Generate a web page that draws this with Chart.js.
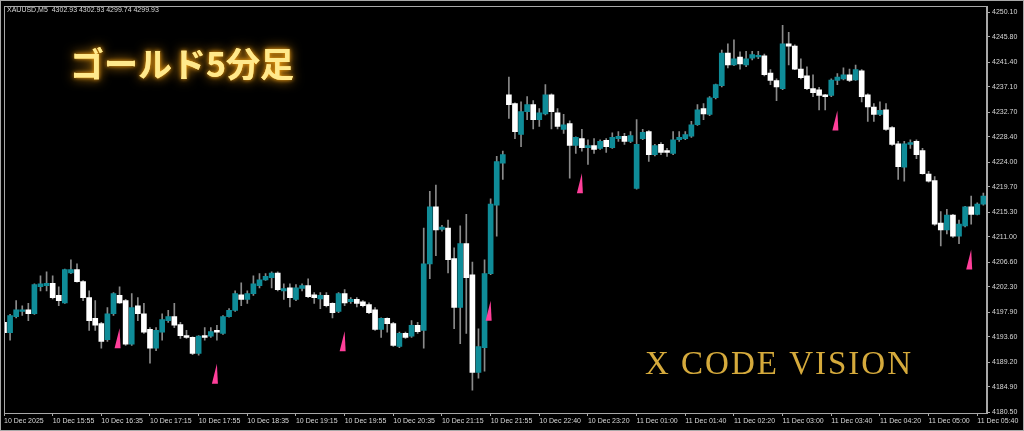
<!DOCTYPE html>
<html>
<head>
<meta charset="utf-8">
<script src="https://cdn.jsdelivr.net/npm/chart.js@4.4.1/dist/chart.umd.min.js"></script>
<style>
  html, body { margin: 0; padding: 0; background: #000; }
  canvas { display: block; }
</style>
</head>
<body>
<canvas id="wykres" width="1024" height="431"></canvas>
<script>
// XAUUSD M5 candles
var opens = [
  4196.1, 4194.3, 4197.1, 4198.0, 4198.3, 4197.6, 4202.3, 4202.5, 4202.9, 4200.8,
  4199.5, 4204.7, 4205.3, 4203.2, 4200.4, 4196.8, 4195.9, 4193.1, 4197.6, 4200.8,
  4199.9, 4192.3, 4199.0, 4197.6, 4194.9, 4191.6, 4194.4, 4196.4, 4197.1, 4195.7,
  4193.8, 4193.5, 4190.7, 4193.8, 4193.7, 4194.7, 4194.2, 4197.1, 4198.2, 4200.9,
  4200.1, 4201.1, 4202.5, 4203.5, 4203.9, 4204.7, 4201.6, 4202.1, 4200.1, 4202.0,
  4202.5, 4200.9, 4200.2, 4200.8, 4199.4, 4198.0, 4201.1, 4199.7, 4200.1, 4199.7,
  4199.2, 4198.3, 4194.9, 4196.8, 4195.9, 4191.9, 4194.2, 4193.7, 4195.6, 4194.7,
  4206.3, 4216.2, 4212.3, 4212.5, 4207.2, 4198.7, 4209.8, 4204.4, 4187.4, 4191.7,
  4204.6, 4216.5, 4223.8, 4235.7, 4234.2, 4228.8, 4232.8, 4234.0, 4231.4, 4232.4,
  4235.7, 4232.6, 4229.7, 4230.7, 4226.9, 4228.1, 4226.5, 4226.9, 4226.4, 4227.8,
  4226.5, 4228.1, 4228.5, 4227.6, 4219.4, 4228.1, 4229.3, 4225.3, 4227.1, 4226.0,
  4225.5, 4227.9, 4228.1, 4228.5, 4230.5, 4233.3, 4232.3, 4235.2, 4237.3, 4243.0,
  4240.9, 4242.3, 4240.9, 4242.1, 4242.3, 4242.5, 4239.5, 4238.2, 4236.8, 4244.6,
  4244.2, 4240.2, 4239.0, 4236.8, 4236.6, 4235.7, 4235.6, 4238.2, 4238.5, 4239.2,
  4238.3, 4239.9, 4235.7, 4233.6, 4232.3, 4233.1, 4230.0, 4227.2, 4223.1, 4227.1,
  4227.6, 4226.0, 4221.9, 4220.8, 4213.4, 4212.2, 4214.8, 4211.1, 4212.9, 4216.2,
  4214.9, 4216.7
];
var highs = [
  4196.8, 4197.5, 4199.9, 4199.0, 4199.4, 4202.8, 4204.2, 4204.9, 4204.2, 4202.3,
  4205.4, 4207.0, 4206.3, 4203.4, 4201.6, 4199.9, 4196.1, 4198.7, 4201.3, 4202.3,
  4200.1, 4201.1, 4200.4, 4199.4, 4195.2, 4195.2, 4197.6, 4198.2, 4199.4, 4196.1,
  4194.7, 4193.6, 4193.8, 4195.2, 4195.2, 4195.6, 4197.3, 4198.5, 4201.6, 4203.0,
  4201.6, 4204.2, 4204.6, 4204.6, 4204.9, 4204.9, 4202.8, 4202.8, 4202.7, 4202.8,
  4203.7, 4201.3, 4201.3, 4201.3, 4199.5, 4201.3, 4201.8, 4200.4, 4200.4, 4199.9,
  4199.5, 4198.7, 4196.9, 4196.9, 4196.1, 4194.4, 4194.4, 4196.4, 4196.1, 4212.5,
  4218.9, 4220.0, 4213.0, 4213.9, 4209.1, 4212.9, 4214.9, 4206.6, 4195.0, 4207.0,
  4217.6, 4225.0, 4225.9, 4238.8, 4234.3, 4234.5, 4235.4, 4234.7, 4233.3, 4237.5,
  4235.9, 4233.3, 4232.3, 4231.2, 4228.4, 4229.7, 4227.9, 4228.1, 4227.9, 4228.1,
  4229.1, 4229.3, 4229.0, 4229.3, 4231.4, 4229.7, 4229.5, 4227.1, 4227.4, 4226.4,
  4229.3, 4229.3, 4229.3, 4231.1, 4234.0, 4234.2, 4235.4, 4237.6, 4243.5, 4244.6,
  4245.3, 4243.2, 4243.3, 4243.3, 4243.3, 4242.8, 4240.1, 4238.5, 4247.8, 4246.6,
  4244.4, 4242.0, 4240.6, 4239.2, 4237.0, 4235.8, 4238.5, 4239.4, 4240.4, 4240.2,
  4240.9, 4240.1, 4235.9, 4234.2, 4234.5, 4234.2, 4230.2, 4227.6, 4227.6, 4227.9,
  4227.9, 4226.4, 4222.4, 4221.5, 4215.4, 4215.8, 4214.9, 4213.9, 4216.3, 4218.1,
  4216.9, 4218.6
];
var lows = [
  4194.0, 4193.0, 4196.9, 4197.3, 4196.4, 4197.5, 4201.6, 4201.6, 4200.2, 4199.0,
  4199.4, 4204.6, 4203.1, 4199.9, 4194.7, 4194.7, 4191.6, 4192.8, 4197.3, 4199.4,
  4192.1, 4192.1, 4196.4, 4194.2, 4189.0, 4191.2, 4193.0, 4196.1, 4195.2, 4193.3,
  4193.3, 4190.5, 4190.4, 4193.0, 4193.5, 4193.0, 4194.0, 4197.0, 4198.0, 4199.0,
  4199.4, 4200.8, 4202.1, 4203.4, 4202.1, 4201.6, 4200.1, 4198.8, 4199.9, 4201.6,
  4200.4, 4199.4, 4198.5, 4198.8, 4196.9, 4197.8, 4199.0, 4199.4, 4198.8, 4198.8,
  4197.6, 4194.7, 4193.5, 4194.4, 4191.9, 4191.7, 4193.3, 4193.5, 4194.2, 4191.6,
  4203.7, 4207.7, 4212.0, 4204.7, 4195.0, 4192.4, 4194.2, 4184.3, 4186.4, 4187.6,
  4204.4, 4211.1, 4221.0, 4231.6, 4228.1, 4226.7, 4231.4, 4229.8, 4230.2, 4232.2,
  4229.8, 4229.8, 4229.0, 4221.2, 4225.5, 4225.9, 4223.6, 4225.5, 4226.2, 4225.7,
  4226.4, 4227.6, 4227.1, 4227.4, 4219.3, 4227.9, 4224.1, 4225.1, 4225.3, 4225.0,
  4225.3, 4227.6, 4227.9, 4228.3, 4230.4, 4231.4, 4232.1, 4235.0, 4237.1, 4240.4,
  4240.8, 4240.2, 4240.6, 4241.8, 4242.0, 4239.0, 4237.5, 4234.7, 4236.6, 4240.9,
  4240.1, 4238.5, 4236.6, 4235.4, 4233.1, 4233.1, 4235.4, 4237.5, 4238.3, 4238.0,
  4238.2, 4234.5, 4231.1, 4231.1, 4232.1, 4229.5, 4226.9, 4221.0, 4220.7, 4226.4,
  4224.6, 4221.9, 4220.5, 4213.0, 4209.4, 4211.5, 4210.9, 4209.8, 4212.7, 4213.2,
  4214.8, 4216.5
];
var closes = [
  4194.3, 4197.3, 4198.3, 4198.3, 4197.6, 4202.7, 4202.8, 4202.9, 4200.4, 4199.9,
  4205.3, 4205.3, 4203.2, 4200.4, 4196.4, 4195.6, 4192.8, 4197.6, 4201.1, 4199.5,
  4192.3, 4198.7, 4197.6, 4194.4, 4191.6, 4194.7, 4196.6, 4197.1, 4195.6, 4193.8,
  4193.5, 4190.7, 4193.7, 4193.5, 4194.5, 4194.4, 4197.1, 4198.2, 4201.1, 4200.1,
  4201.1, 4202.8, 4203.5, 4204.1, 4204.7, 4201.8, 4202.0, 4200.4, 4202.1, 4202.5,
  4200.6, 4200.4, 4200.8, 4199.0, 4197.8, 4201.1, 4199.5, 4200.1, 4199.4, 4199.0,
  4197.8, 4194.9, 4196.8, 4195.9, 4192.1, 4194.2, 4193.5, 4195.6, 4194.5, 4206.3,
  4216.2, 4212.2, 4212.7, 4207.0, 4198.7, 4209.8, 4203.9, 4187.4, 4191.9, 4204.6,
  4216.7, 4224.1, 4225.3, 4234.0, 4229.3, 4232.8, 4234.0, 4231.4, 4232.6, 4235.7,
  4232.8, 4230.2, 4230.5, 4226.9, 4228.3, 4226.5, 4226.9, 4226.2, 4227.6, 4226.7,
  4228.3, 4228.5, 4227.6, 4228.6, 4227.1, 4229.2, 4225.3, 4226.9, 4225.7, 4225.7,
  4227.9, 4228.3, 4228.8, 4230.5, 4233.1, 4232.4, 4235.2, 4237.5, 4243.0, 4240.9,
  4242.0, 4241.1, 4242.0, 4242.7, 4242.6, 4239.2, 4238.2, 4237.1, 4244.6, 4244.2,
  4240.2, 4238.7, 4236.8, 4236.1, 4235.6, 4235.4, 4238.3, 4238.8, 4239.2, 4238.2,
  4240.1, 4235.4, 4233.6, 4232.3, 4233.0, 4229.7, 4227.1, 4223.2, 4227.2, 4227.4,
  4225.3, 4222.0, 4220.7, 4213.2, 4212.2, 4214.8, 4211.1, 4213.2, 4216.2, 4214.9,
  4216.7, 4218.1
];

// pink signal arrows: candle index and price at the arrow base
var arrowIdx = [19, 35, 56, 80, 95, 137, 159];
var arrowBase = [4191.6, 4185.4, 4191.1, 4196.4, 4218.6, 4229.5, 4205.3];

// axis labels
var xTickIdx = [0, 8, 16, 24, 32, 40, 48, 56, 64, 72, 80, 88, 96, 104, 112, 120, 128, 136, 144, 152, 160];
var xTickLabels = ["10 Dec 2025", "10 Dec 15:55", "10 Dec 16:35", "10 Dec 17:15", "10 Dec 17:55",
  "10 Dec 18:35", "10 Dec 19:15", "10 Dec 19:55", "10 Dec 20:35", "10 Dec 21:15", "10 Dec 21:55",
  "10 Dec 22:40", "10 Dec 23:20", "11 Dec 01:00", "11 Dec 01:40", "11 Dec 02:20", "11 Dec 03:00",
  "11 Dec 03:40", "11 Dec 04:20", "11 Dec 05:00", "11 Dec 05:40"];
var yTicks = [4250.10, 4245.80, 4241.40, 4237.10, 4232.70, 4228.40, 4224.00, 4219.70, 4215.30,
  4211.00, 4206.60, 4202.30, 4197.90, 4193.60, 4189.20, 4184.90, 4180.50];

var header = "XAUUSD,M5  4302.93 4302.93 4299.74 4299.93";
var title = "ゴールド5分足";
var brand = "X CODE VISION";

var kolorUp = '#0f8c98';
var kolorDown = '#ffffff';
var kolorKnot = '#8a8a8a';
var kolorRamki = '#a8a8a8';
var kolorTekstu = '#d8d8d8';

var bodies = opens.map(function (o, i) { return { x: i, y: [o, closes[i]] }; });
var wicks = lows.map(function (l, i) { return { x: i, y: [l, highs[i]] }; });
var bodyColors = opens.map(function (o, i) { return closes[i] >= o ? kolorUp : kolorDown; });
var arrows = arrowIdx.map(function (x, k) { return { x: x, y: arrowBase[k] }; });

// black background + frames
var tloPlugin = {
  id: 'tlo',
  beforeDraw: function (chart) {
    var ctx = chart.ctx;
    ctx.save();
    ctx.fillStyle = '#000';
    ctx.fillRect(0, 0, chart.width, chart.height);
    ctx.restore();
  },
  afterDraw: function (chart) {
    var ctx = chart.ctx;
    var a = chart.chartArea;
    ctx.save();
    ctx.strokeStyle = kolorRamki;
    ctx.lineWidth = 1;
    ctx.strokeRect(0.5, 0.5, chart.width - 1, chart.height - 1);
    ctx.strokeRect(Math.round(a.left) + 0.5, Math.round(a.top) + 0.5,
      Math.round(a.right - a.left) - 1, Math.round(a.bottom - a.top));

    // symbol line at the top
    ctx.fillStyle = kolorTekstu;
    ctx.font = '7px "Liberation Sans"';
    ctx.textBaseline = 'middle';
    ctx.fillText(header, 7, 10);

    // glowing title
    ctx.font = 'bold 34px "Noto Sans CJK JP"';
    ctx.textBaseline = 'middle';
    ctx.shadowColor = 'rgba(255,168,20,0.95)';
    ctx.shadowBlur = 12;
    ctx.fillStyle = '#ffe98c';
    ctx.fillText(title, 70, 64);
    ctx.shadowBlur = 4;
    ctx.fillText(title, 70, 64);
    ctx.shadowBlur = 0;

    // brand
    ctx.font = '33px "Liberation Serif"';
    ctx.letterSpacing = '2px';
    ctx.textBaseline = 'alphabetic';
    ctx.fillStyle = '#d5aa3c';
    ctx.fillText(brand, 645, 374);
    ctx.letterSpacing = '0px';
    ctx.restore();
  }
};

// pink wedge arrows drawn at the scatter points
var strzalkiPlugin = {
  id: 'strzalki',
  afterDatasetsDraw: function (chart) {
    var ctx = chart.ctx;
    var meta = chart.getDatasetMeta(2);
    ctx.save();
    ctx.fillStyle = '#ff3f9a';
    meta.data.forEach(function (pt) {
      ctx.beginPath();
      ctx.moveTo(pt.x + 1, pt.y);
      ctx.lineTo(pt.x - 5, pt.y);
      ctx.lineTo(pt.x, pt.y - 20);
      ctx.closePath();
      ctx.fill();
    });
    ctx.restore();
  }
};

var ctx = document.getElementById('wykres');
var chart = new Chart(ctx, {
  type: 'bar',
  data: {
    datasets: [
      {
        label: 'body',
        data: bodies,
        backgroundColor: bodyColors,
        borderWidth: 0,
        barThickness: 5,
        minBarLength: 1,
        grouped: false,
        order: 1
      },
      {
        label: 'wick',
        data: wicks,
        backgroundColor: kolorKnot,
        borderWidth: 0,
        barThickness: 1,
        minBarLength: 1,
        grouped: false,
        order: 2
      },
      {
        type: 'line',
        label: 'arrows',
        data: arrows,
        showLine: false,
        pointRadius: 0,
        order: 0
      }
    ]
  },
  options: {
    responsive: false,
    animation: false,
    devicePixelRatio: 1,
    layout: { padding: { left: 4, top: 4, right: 2, bottom: 2 } },
    plugins: { legend: { display: false }, tooltip: { enabled: false } },
    scales: {
      x: {
        type: 'linear',
        offset: false,
        min: 0,
        max: 161.6,
        bounds: 'data',
        afterBuildTicks: function (s) { s.ticks = xTickIdx.map(function (v) { return { value: v }; }); },
        afterFit: function (s) { s.height = 16; },
        grid: { display: true, offset: false, drawOnChartArea: false, drawTicks: true, tickLength: 3, color: kolorRamki },
        border: { display: true, color: kolorRamki },
        ticks: {
          autoSkip: false,
          maxRotation: 0,
          align: 'start',
          padding: 1,
          color: kolorTekstu,
          font: { family: 'Liberation Sans', size: 7 },
          callback: function (v) { return xTickLabels[xTickIdx.indexOf(v)]; }
        }
      },
      y: {
        position: 'right',
        min: 4180.33,
        max: 4251.14,
        afterBuildTicks: function (s) { s.ticks = yTicks.map(function (v) { return { value: v }; }); },
        afterFit: function (s) { s.width = 35; },
        grid: { display: true, drawOnChartArea: false, drawTicks: true, tickLength: 3, color: kolorRamki },
        border: { display: true, color: kolorRamki },
        ticks: {
          padding: 2,
          color: kolorTekstu,
          font: { family: 'Liberation Sans', size: 7 },
          callback: function (v) { return v.toFixed(2); }
        }
      }
    }
  },
  plugins: [tloPlugin, strzalkiPlugin]
});
</script>
</body>
</html>
